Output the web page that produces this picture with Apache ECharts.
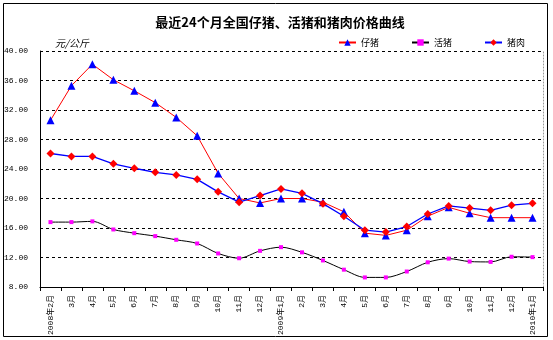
<!DOCTYPE html>
<html>
<head>
<meta charset="utf-8">
<script src="https://cdn.jsdelivr.net/npm/echarts@6/dist/echarts.min.js"></script>
<style>
  html, body { margin: 0; padding: 0; background: #fff; }
  #chart { width: 553px; height: 340px; }
</style>
</head>
<body>
<div id="chart"></div>
<script>
// Monthly categories, Feb 2008 – Jan 2010
const months = [
  '2008年2月', '3月', '4月', '5月', '6月', '7月', '8月', '9月', '10月', '11月', '12月',
  '2009年1月', '2月', '3月', '4月', '5月', '6月', '7月', '8月', '9月', '10月', '11月', '12月',
  '2010年1月'
];

// Prices, 元/公斤
const pigletPrice = [30.6, 35.3, 38.2, 36.1, 34.6, 33.0, 31.0, 28.5, 23.4, 20.0, 19.4, 20.0,
                     20.0, 19.5, 18.2, 15.3, 15.0, 15.7, 17.6, 18.8, 18.0, 17.4, 17.4, 17.4];
const hogPrice    = [16.8, 16.8, 16.9, 15.8, 15.3, 14.9, 14.4, 13.9, 12.55, 11.9, 12.9, 13.4,
                     12.7, 11.6, 10.35, 9.3, 9.3, 10.1, 11.35, 11.85, 11.45, 11.4, 12.1, 12.05];
const porkPrice   = [26.1, 25.7, 25.7, 24.7, 24.1, 23.55, 23.2, 22.6, 20.9, 19.5, 20.4, 21.3,
                     20.7, 19.3, 17.6, 15.7, 15.45, 16.2, 17.9, 19.0, 18.7, 18.4, 19.1, 19.35];

const seriesNames = ['仔猪', '活猪', '猪肉'];
const yTicks = { min: 8, max: 40, step: 4 };

const monoFont = '"Liberation Mono", "Noto Sans CJK SC", monospace';
const cjkFont = '"Noto Sans CJK SC", sans-serif';

const chart = echarts.init(document.getElementById('chart'), null, { renderer: 'canvas' });

chart.setOption({
  animation: false,
  backgroundColor: '#ffffff',
  title: [
    {
      text: '最近24个月全国仔猪、活猪和猪肉价格曲线',
      left: 275, top: 11, textAlign: 'center',
      textStyle: { fontFamily: cjkFont, fontSize: 13, fontWeight: 'bold', color: '#000' }
    },
    {
      text: '元/公斤',
      left: 50, top: 33,
      textStyle: { fontFamily: cjkFont, fontSize: 10, fontStyle: 'italic', fontWeight: 'normal', color: '#000' }
    }
  ],
  legend: {
    data: seriesNames,
    left: 333, top: 33,
    itemWidth: 17, itemHeight: 8, itemGap: 32,
    textStyle: { fontFamily: cjkFont, fontSize: 9, color: '#000' }
  },
  graphic: [{
    type: 'rect',
    shape: { x: 3.5, y: 3.5, width: 544, height: 333 },
    style: { fill: 'none', stroke: '#000', lineWidth: 1 },
    silent: true, z: -1
  }],
  grid: { left: 40, right: 10, top: 51, bottom: 53 },
  xAxis: {
    type: 'category',
    data: months,
    boundaryGap: true,
    axisLine: { lineStyle: { color: '#000', width: 1 } },
    axisTick: { show: true, length: 4, lineStyle: { color: '#000' } },
    axisLabel: {
      rotate: 90, interval: 0, margin: 8,
      fontFamily: monoFont, fontSize: 8, color: '#000'
    },
    splitLine: { show: false }
  },
  yAxis: [
    {
      type: 'value',
      min: yTicks.min, max: yTicks.max, interval: yTicks.step,
      axisLine: { show: true, lineStyle: { color: '#000', width: 1 } },
      axisTick: { show: false },
      axisLabel: {
        margin: 12, fontFamily: monoFont, fontSize: 8, color: '#000',
        formatter: v => v.toFixed(2)
      },
      splitLine: { show: true, lineStyle: { color: '#000', type: [3, 3], width: 1 } }
    },
    {
      type: 'value', position: 'right',
      min: yTicks.min, max: yTicks.max, interval: yTicks.step,
      axisLine: { show: true, lineStyle: { color: '#999', type: [1, 2], width: 1 } },
      axisTick: { show: false }, axisLabel: { show: false }, splitLine: { show: false }
    }
  ],
  series: [
    {
      name: seriesNames[0], type: 'line', data: pigletPrice,
      symbol: 'triangle', symbolSize: 8,
      lineStyle: { color: '#ff0000', width: 1 },
      itemStyle: { color: '#0000ff' }
    },
    {
      name: seriesNames[1], type: 'line', data: hogPrice,
      symbol: 'rect', symbolSize: 4, smooth: 0.3,
      lineStyle: { color: '#000000', width: 1 },
      itemStyle: { color: '#ff00ff' }
    },
    {
      name: seriesNames[2], type: 'line', data: porkPrice,
      symbol: 'diamond', symbolSize: 8,
      lineStyle: { color: '#0000ff', width: 1.3 },
      itemStyle: { color: '#ff0000' }
    }
  ]
});
</script>
</body>
</html>
